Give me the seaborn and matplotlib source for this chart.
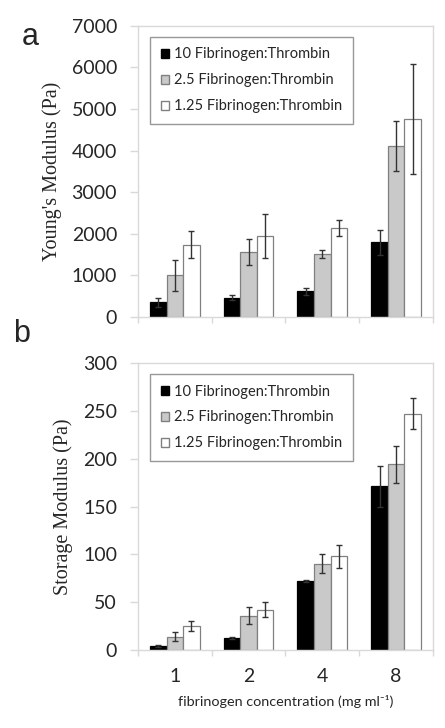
import matplotlib
matplotlib.use("Agg")
import matplotlib.pyplot as plt
import seaborn as sns
import pandas as pd
from matplotlib.patches import Patch

sns.set_theme(style="white")
plt.rcParams['font.family'] = ['Lato', 'DejaVu Sans']

concentrations = ["1", "2", "4", "8"]
ratios = ["10 Fibrinogen:Thrombin", "2.5 Fibrinogen:Thrombin", "1.25 Fibrinogen:Thrombin"]

young_10 = [350, 460, 620, 1800]
young_25 = [1000, 1560, 1510, 4120]
young_125 = [1740, 1940, 2140, 4750]
young_err_10 = [110, 60, 80, 300]
young_err_25 = [370, 320, 90, 600]
young_err_125 = [330, 530, 185, 1320]

storage_10 = [4, 13, 72, 171]
storage_25 = [14, 36, 90, 194]
storage_125 = [25, 42, 98, 247]
storage_err_10 = [1, 1, 1, 21]
storage_err_25 = [5, 9, 10, 19]
storage_err_125 = [5, 8, 12, 16]

fill_colors = ["#000000", "#c9c9c9", "#ffffff"]
edge_colors = ["#000000", "#808080", "#808080"]


def make_df(vals):
    rows = []
    for r, v in zip(ratios, vals):
        for c, y in zip(concentrations, v):
            rows.append({"conc": c, "ratio": r, "value": y})
    return pd.DataFrame(rows)


def draw(ax, vals, errs, ymax, ystep, ylabel, show_x):
    df = make_df(vals)
    sns.barplot(data=df, x="conc", y="value", hue="ratio", order=concentrations,
                hue_order=ratios, palette=fill_colors, width=0.675, errorbar=None,
                ax=ax, legend=False, saturation=1)
    bar_conts = list(ax.containers)
    for i, cont in enumerate(bar_conts):
        for j, bar in enumerate(cont.patches):
            bar.set_edgecolor(edge_colors[i])
            bar.set_linewidth(0.9)
            xc = bar.get_x() + bar.get_width() / 2
            ax.errorbar(xc, bar.get_height(), yerr=errs[i][j], color="#333333",
                        elinewidth=1.0, capsize=2, capthick=1.0, fmt="none")
    ax.set_ylim(0, ymax)
    ax.set_xlim(-0.5, 3.5)
    ax.set_yticks(range(0, ymax + 1, ystep))
    ax.tick_params(axis="y", labelsize=14, length=5.5, color="#d9d9d9", width=1,
                   direction="out", pad=9.5, left=True)
    ax.set_xticks(range(4))
    ax.set_xticks([-0.5, 0.5, 1.5, 2.5, 3.5], minor=True)
    ax.tick_params(axis="x", which="major", length=0, labelsize=14, pad=13)
    ax.tick_params(axis="x", which="minor", length=4.5, color="#d9d9d9", width=1,
                   direction="out", bottom=True)
    for s in ax.spines.values():
        s.set_color("#d9d9d9")
        s.set_linewidth(1)
    ax.set_ylabel(ylabel, fontfamily="Liberation Serif", fontsize=14.5, labelpad=7)
    if show_x:
        ax.set_xticklabels(concentrations)
        ax.set_xlabel("fibrinogen concentration (mg ml\u207b\u00b9)", fontsize=10.4,
                      labelpad=7, fontfamily=["Lato", "DejaVu Sans"])
    else:
        ax.set_xticklabels([])
        ax.set_xlabel("")
    handles = [Patch(facecolor=fill_colors[i], edgecolor=edge_colors[i], label=ratios[i])
               for i in range(3)]
    leg = ax.legend(handles=handles, loc="upper left", bbox_to_anchor=(0.04, 0.963),
                    frameon=True, fancybox=False, fontsize=10.5, handlelength=0.55,
                    handleheight=0.55, handletextpad=0.35, labelspacing=0.82,
                    borderpad=0.75, borderaxespad=0)
    leg.get_frame().set_edgecolor("#7f7f7f")
    leg.get_frame().set_linewidth(1)


fig = plt.figure(figsize=(4.45, 7.28), dpi=100)
ax1 = fig.add_axes([0.310, 0.5646, 0.663, 0.400])
ax2 = fig.add_axes([0.310, 0.1071, 0.663, 0.3943])

draw(ax1, [young_10, young_25, young_125], [young_err_10, young_err_25, young_err_125],
     7000, 1000, "Young's Modulus (Pa)", False)
draw(ax2, [storage_10, storage_25, storage_125], [storage_err_10, storage_err_25, storage_err_125],
     300, 50, "Storage Modulus (Pa)", True)

fig.text(0.049, 0.938, "a", fontsize=22, fontfamily="Liberation Sans", va="baseline")
fig.text(0.029, 0.530, "b", fontsize=22, fontfamily="Liberation Sans", va="baseline")

fig.savefig("out.png", dpi=100, facecolor="white")
